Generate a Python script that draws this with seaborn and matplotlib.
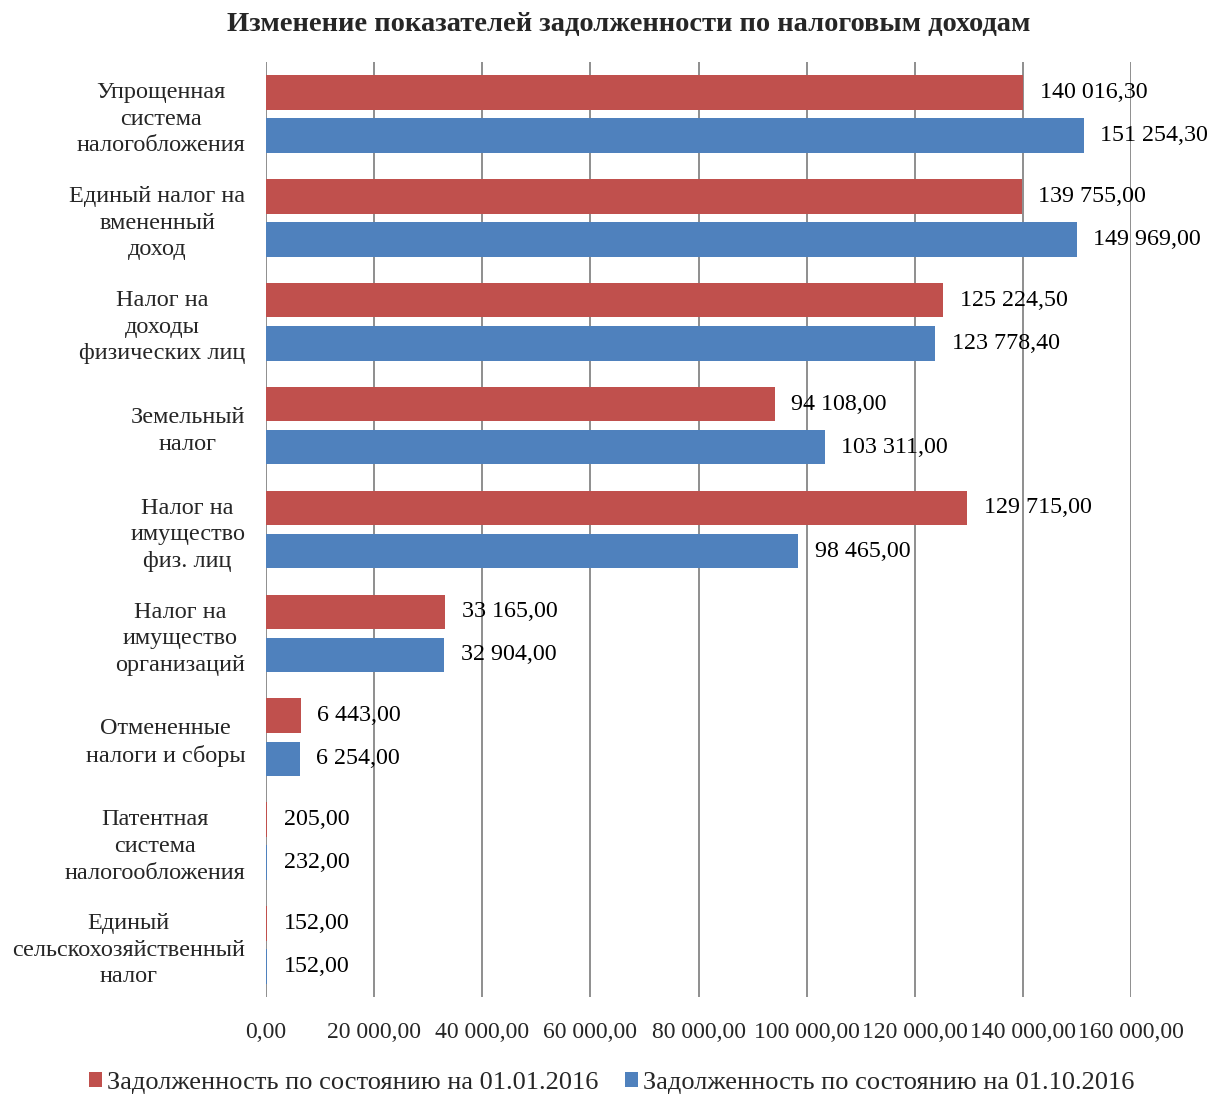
import pandas as pd
import matplotlib
matplotlib.use('Agg')
import matplotlib.pyplot as plt
import matplotlib.ticker as mticker
import seaborn as sns

# Данные: задолженность по налоговым доходам
kategorii = ['Упрощенная\nсистема\nналогобложения',
             'Единый налог на\nвмененный\nдоход',
             'Налог на\nдоходы\nфизических лиц',
             'Земельный\nналог',
             'Налог на\nимущество\nфиз. лиц',
             'Налог на\nимущество\nорганизаций',
             'Отмененные\nналоги и сборы',
             'Патентная\nсистема\nналогообложения',
             'Единый\nсельскохозяйственный\nналог']
zadolz_01_01 = [140016.30, 139755.00, 125224.50, 94108.00, 129715.00,
                33165.00, 6443.00, 205.00, 152.00]
zadolz_01_10 = [151254.30, 149969.00, 123778.40, 103311.00, 98465.00,
                32904.00, 6254.00, 232.00, 152.00]
seriya = ['Задолженность по состоянию на 01.01.2016',
          'Задолженность по состоянию на 01.10.2016']
tiki_x = [0, 20000, 40000, 60000, 80000, 100000, 120000, 140000, 160000]

df = pd.DataFrame({'kategoriya': kategorii * 2,
                   'znachenie': zadolz_01_01 + zadolz_01_10,
                   'period': [seriya[0]] * len(kategorii) + [seriya[1]] * len(kategorii)})


def rus_fmt(v):
    return f'{v:,.2f}'.replace(',', ' ').replace('.', ',')


sns.set_style('white')
plt.rcParams['font.family'] = ['Liberation Serif', 'DejaVu Serif']

fig = plt.figure(figsize=(12.11, 10.95), dpi=100)
ax = fig.add_axes([266 / 1211, 1 - 997 / 1095, (1131 - 266) / 1211, (997 - 62) / 1095])

sns.barplot(data=df, y='kategoriya', x='znachenie', hue='period', orient='h',
            palette=['#C0504D', '#4F81BD'], width=0.83, gap=0.2,
            saturation=1, linewidth=0, ax=ax, legend=True)

for cont in ax.containers:
    ax.bar_label(cont, labels=[rus_fmt(b.get_width()) for b in cont],
                 padding=12, fontsize=17.3, color='black')

ax.set_xlim(0, 160000)
ax.set_xticks(tiki_x)
ax.xaxis.set_major_formatter(mticker.FuncFormatter(lambda v, p: rus_fmt(v)))
ax.grid(axis='x', color='#868686', linewidth=1.3)
ax.grid(axis='y', visible=False)
ax.set_axisbelow(True)
for s in ax.spines.values():
    s.set_visible(False)
ax.tick_params(axis='x', length=6, color='#868686', width=1.3, pad=12, labelsize=17)
ax.tick_params(axis='y', length=0, pad=15, labelsize=17.5)
for lbl in ax.get_yticklabels():
    lbl.set_multialignment('center')
    lbl.set_linespacing(1.35)
ax.set_xlabel('')
ax.set_ylabel('')

handles, labels = ax.get_legend_handles_labels()
ax.get_legend().remove()
fig.legend(handles, labels, loc='center', bbox_to_anchor=(0.505, 1 - 1083 / 1095),
           ncol=2, frameon=False, fontsize=19, handlelength=0.5, handleheight=0.5,
           handletextpad=0.2, columnspacing=1.0)

fig.suptitle('Изменение показателей задолженности по налоговым доходам',
             x=0.519, y=1 - 25 / 1095, va='center', fontsize=20.5, fontweight='bold')

fig.savefig('out.png', dpi=100)
